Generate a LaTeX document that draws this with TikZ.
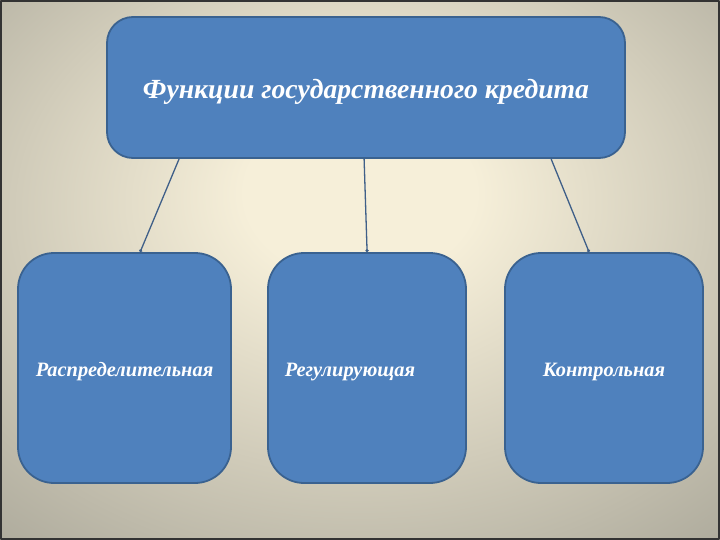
\documentclass[tikz,border=0pt]{standalone}
\usepackage{fontspec}
\setmainfont{Liberation Serif}
\usetikzlibrary{arrows.meta}

\definecolor{boxblue}{HTML}{4F81BD}
\definecolor{boxedge}{HTML}{3A6290}
\definecolor{linkcol}{HTML}{3F5F88}
\definecolor{bgin}{HTML}{F6EFD9}
\definecolor{bgout}{HTML}{98968A}

\pgfdeclareradialshading{slidebg}{\pgfpoint{0bp}{8bp}}{%
  color(0bp)=(bgin); color(8bp)=(bgin); color(48bp)=(bgout); color(75bp)=(bgout)}

\tikzset{
  fbox/.style={draw=boxedge, line width=1.8pt, fill=boxblue, rounded corners=#1,
    text=white, inner sep=0pt},
  subbox/.style={fbox=36pt, minimum height=230pt, text height=22pt, text depth=5pt,
    font=\bfseries\itshape\fontsize{20.4}{24}\selectfont},
  link/.style={draw=linkcol, line width=1.3pt, -{Circle[length=3pt]}}
}

\begin{document}
\begin{tikzpicture}[x=1pt,y=-1pt,line join=round]
% фон
\shade[shading=slidebg] (0,0) rectangle (720,540);
\draw[black!80, line width=2pt] (1,1) rectangle (719,539);
\useasboundingbox (0,0) rectangle (720,540);

% блоки
\node[fbox=26pt, minimum width=518pt, minimum height=141pt,
  text height=29pt, text depth=6pt,
  font=\bfseries\itshape\fontsize{27.7}{32}\selectfont] (credit) at (366,87.5)
  {Функции государственного кредита};
\node[subbox, minimum width=213pt] (distr) at (124.5,368) {Распределительная};
\node[subbox, minimum width=198pt] (regul) at (367,368) {Регулирующая\hspace*{34pt}};
\node[subbox, minimum width=198pt] (contr) at (604,368) {Контрольная};

% связи
\draw[link] ([xshift=73pt]credit.south west) -- ([xshift=123pt]distr.north west);
\draw[link] ([xshift=258pt]credit.south west) -- ([xshift=100pt]regul.north west);
\draw[link] ([xshift=445pt]credit.south west) -- ([xshift=85pt]contr.north west);
\end{tikzpicture}
\end{document}
